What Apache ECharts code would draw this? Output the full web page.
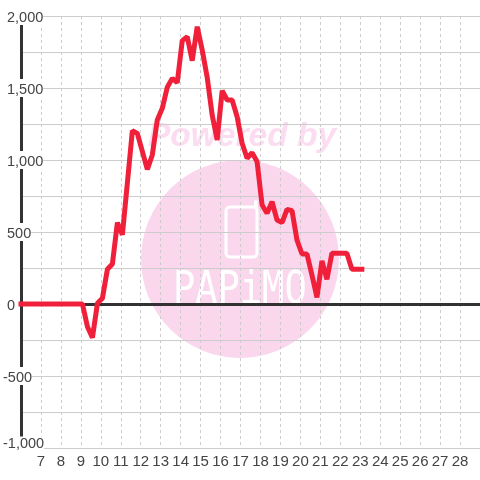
<!DOCTYPE html>
<html>
<head>
<meta charset="utf-8">
<style>
  html, body { margin: 0; padding: 0; background: #fff; }
  #chart { width: 480px; height: 480px; }
</style>
<script src="https://cdn.jsdelivr.net/npm/echarts@6/dist/echarts.min.js"></script>
</head>
<body>
<div id="chart"></div>
<script>
// hours of the day
const times = [
  6.0, 9.08, 9.33, 9.58, 9.83, 10.08, 10.33, 10.58, 10.83, 11.08, 11.33, 11.58,
  11.83, 12.08, 12.33, 12.58, 12.83, 13.08, 13.33, 13.58, 13.83, 14.08, 14.33, 14.58,
  14.83, 15.08, 15.33, 15.58, 15.83, 16.08, 16.33, 16.58, 16.83, 17.08, 17.33, 17.58,
  17.83, 18.08, 18.33, 18.58, 18.83, 19.08, 19.33, 19.58, 19.83, 20.08, 20.33, 20.58,
  20.83, 21.08, 21.33, 21.58, 21.83, 22.08, 22.33, 22.58, 22.83, 23.08
];
const values = [
  0, 0, -158, -234, 5, 40, 241, 278, 565, 480, 840, 1203,
  1185, 1060, 935, 1035, 1278, 1359, 1505, 1567, 1537, 1829, 1856, 1690,
  1926, 1764, 1574, 1312, 1139, 1481, 1417, 1417, 1300, 1116, 1012, 1051,
  988, 688, 630, 710, 583, 565, 657, 648, 444, 347, 347, 201,
  46, 300, 171, 352, 352, 352, 352, 241, 241, 241
];

const chart = echarts.init(document.getElementById('chart'));
const gridColor = '#ccc';

const option = {
  animation: false,
  backgroundColor: '#fff',
  textStyle: { fontFamily: '"Liberation Sans"' },
  grid: { left: 20, right: 0, top: 16, bottom: 32 },
  xAxis: [
    {
      // tick labels along the bottom
      type: 'value', min: 6, max: 29, interval: 1, position: 'bottom', z: 5,
      axisLine: { show: false, onZero: false }, axisTick: { show: false }, splitLine: { show: false },
      axisLabel: { color: '#444', fontSize: 15, margin: 6, showMinLabel: false, showMaxLabel: false }
    },
    {
      // dark line at zero
      type: 'value', min: 6, max: 29, interval: 1, position: 'bottom', z: 2,
      axisLine: { show: true, onZero: true, lineStyle: { color: '#333', width: 3 } },
      axisTick: { show: false }, axisLabel: { show: false }, splitLine: { show: false }
    },
    {
      // dashed verticals, under the y labels
      type: 'value', min: 6, max: 29, interval: 1, position: 'bottom', z: 0,
      axisLine: { show: false, onZero: false }, axisTick: { show: false }, axisLabel: { show: false },
      splitLine: { show: true, showMinLine: false, showMaxLine: false, lineStyle: { color: gridColor, type: [3, 3], width: 1 } }
    }
  ],
  yAxis: {
    type: 'value', min: -1000, max: 2000, interval: 500, z: 1,
    axisLine: { show: true, onZero: false, lineStyle: { color: '#333', width: 3 } },
    axisTick: { show: false },
    minorTick: { show: false, splitNumber: 2 },
    splitLine: { show: true, lineStyle: { color: gridColor, width: 1 } },
    minorSplitLine: { show: true, lineStyle: { color: gridColor, width: 1 } },
    axisLabel: {
      margin: 18, align: 'left',
      formatter: function (v) {
        const s = v.toLocaleString('en-US');
        if (v === -1000) return '{low|' + s + '}';
        return v < 0 ? '{neg|' + s + '}' : '{pos|' + s + '}';
      },
      rich: {
        pos: { color: '#444', fontSize: 14.5, lineHeight: 15, backgroundColor: '#fff', padding: [3, 0, 0, 4] },
        neg: { color: '#444', fontSize: 14.5, lineHeight: 15, backgroundColor: '#fff', padding: [3, 0, 0, 0] },
        low: { color: '#444', fontSize: 14.5, lineHeight: 15, backgroundColor: '#fff', padding: [0, 0, 8, 0] }
      }
    }
  },
  series: [{
    type: 'line',
    xAxisIndex: 0,
    data: times.map((t, i) => [t, values[i]]),
    symbol: 'none',
    clip: false,
    lineStyle: { color: '#f0203a', width: 5, cap: 'square', join: 'bevel' },
    z: 3
  }],
  // watermark sits behind the grid
  graphic: [
    { type: 'circle', z: -1, shape: { cx: 240, cy: 259, r: 99 }, style: { fill: '#fbd7ee' } },
    {
      type: 'text', z: -1, x: 148, y: 120,
      style: { text: 'Powered by', fill: '#fcdcf0', font: 'italic bold 33.5px "Liberation Sans"' }
    },
    {
      type: 'rect', z: -1, shape: { x: 226, y: 207, width: 31, height: 50, r: 4 },
      style: { fill: 'none', stroke: '#fff', lineWidth: 3 }
    },
    {
      type: 'rect', z: -1, shape: { x: 254, y: 200, width: 3.5, height: 9, r: 1.7 },
      style: { fill: '#fff' }
    },
    {
      type: 'text', z: -1, x: 173, y: 270, scaleY: 1.18,
      style: { text: 'PAPiMO', fill: '#fff', font: '37px "DejaVu Sans Mono"' }
    }
  ]
};
chart.setOption(option);
</script>
</body>
</html>
